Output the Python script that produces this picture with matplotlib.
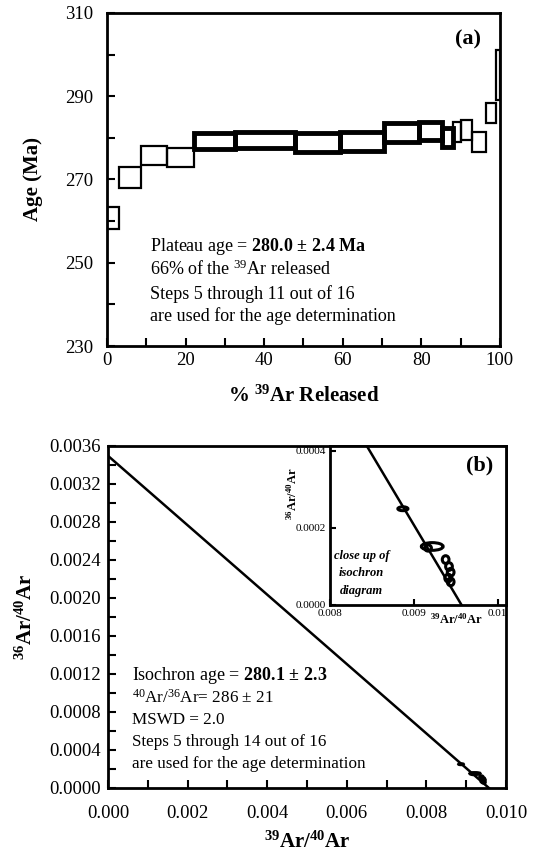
import matplotlib
matplotlib.use("Agg")
import matplotlib.pyplot as plt
from matplotlib.patches import Ellipse
import numpy as np

plt.rcParams['font.family'] = ['Liberation Serif', 'DejaVu Serif']
plt.rcParams['mathtext.fontset'] = 'custom'
plt.rcParams['mathtext.rm'] = 'Liberation Serif'
plt.rcParams['mathtext.it'] = 'Liberation Serif:italic'
plt.rcParams['mathtext.bf'] = 'Liberation Serif:bold'

# step heating spectrum: cumulative % 39Ar at step edges, age band per step (Ma)
release_edges = [0, 3.1, 8.7, 15.2, 22.1, 32.5, 47.8, 59.3, 70.4, 79.5, 85.2, 88.0, 90.2, 92.8, 96.5, 99.0, 100]
age_lo = [258.2, 267.9, 273.5, 273.1, 277.4, 277.6, 276.6, 276.8, 279.0, 279.5, 277.8, 279.1, 279.5, 276.7, 283.6, 289.0]
age_hi = [263.4, 273.0, 278.0, 277.6, 281.2, 281.5, 281.2, 281.4, 283.6, 283.9, 282.4, 283.9, 284.3, 281.5, 288.4, 301.0]
plateau_steps = [5, 6, 7, 8, 9, 10, 11]

# inverse isochron: 39Ar/40Ar, 36Ar/40Ar and half-widths of the error ellipses
iso_x = [0.00887, 0.00922, 0.00917, 0.00938, 0.00942, 0.00944, 0.00941, 0.00944]
iso_y = [0.000250, 0.000152, 0.000148, 0.000118, 0.000100, 0.000085, 0.000070, 0.000060]
iso_sx = [0.00006, 0.00013, 0.00004, 0.00004, 0.00004, 0.00004, 0.00004, 0.00004]
iso_sy = [0.000005, 0.000010, 0.000008, 0.000010, 0.000010, 0.000010, 0.000010, 0.000010]
trapped_ratio = 286.0
x_intercept = 0.00957

fig = plt.figure(figsize=(5.53, 8.59), dpi=100)

# ---------------- (a) age spectrum ----------------
ax1 = fig.add_axes([0.1935, 0.5972, 0.7105, 0.3877])
left = np.array(release_edges[:-1])
width = np.diff(release_edges)
lo = np.array(age_lo)
hi = np.array(age_hi)
lw = [3.5 if i + 1 in plateau_steps else 1.6 for i in range(len(lo))]
ax1.bar(left, hi - lo, width=width, bottom=lo, align='edge', fill=False,
        edgecolor='black', linewidth=lw)
ax1.set_xlim(0, 100)
ax1.set_ylim(230, 310)
ax1.set_xticks(np.arange(0, 101, 20))
ax1.set_xticks(np.arange(0, 101, 10), minor=True)
ax1.set_yticks(np.arange(230, 311, 20))
ax1.set_yticks(np.arange(230, 311, 10), minor=True)
ax1.tick_params(which='both', direction='in', width=1.5, length=6, labelsize=13.5)
ax1.tick_params(axis='x', pad=4)
ax1.tick_params(axis='y', pad=10)
for s in ax1.spines.values():
    s.set_linewidth(2)
ax1.set_xlabel(r'% $^{\mathbf{39}}$Ar Released', fontsize=15, fontweight='bold', labelpad=12)
ax1.set_ylabel('Age (Ma)', fontsize=15, fontweight='bold', labelpad=16)
ax1.text(0.92, 0.92, '(a)', transform=ax1.transAxes, fontsize=16, fontweight='bold',
         ha='center', va='center')

tx = 0.11
ax1.text(tx, 0.30, r'Plateau age = $\mathbf{280.0\,\pm\,2.4\ Ma}$', transform=ax1.transAxes,
         fontsize=13, va='center')
ax1.text(tx, 0.23, r'66% of the $^{39}$Ar released', transform=ax1.transAxes,
         fontsize=13, va='center')
ax1.text(tx, 0.155, 'Steps 5 through 11 out of 16', transform=ax1.transAxes,
         fontsize=13, va='center')
ax1.text(tx, 0.09, 'are used for the age determination', transform=ax1.transAxes,
         fontsize=13, va='center')

# ---------------- (b) inverse isochron ----------------
y_intercept = 1.0 / trapped_ratio
ax2 = fig.add_axes([0.1953, 0.0827, 0.7197, 0.3981])
ax2.plot([0, x_intercept], [y_intercept, 0], color='black', lw=1.8)
for x, y, sx, sy in zip(iso_x, iso_y, iso_sx, iso_sy):
    ax2.add_patch(Ellipse((x, y), 2 * sx, 2 * sy, fill=False, edgecolor='black', lw=2.2))
ax2.set_xlim(0, 0.010)
ax2.set_ylim(0, 0.0036)
ax2.set_xticks(np.arange(0, 0.0101, 0.002))
ax2.set_xticks(np.arange(0, 0.0101, 0.001), minor=True)
ax2.set_yticks(np.arange(0, 0.00361, 0.0004))
ax2.set_yticks(np.arange(0, 0.00361, 0.0002), minor=True)
ax2.xaxis.set_major_formatter(matplotlib.ticker.FormatStrFormatter('%.3f'))
ax2.yaxis.set_major_formatter(matplotlib.ticker.FormatStrFormatter('%.4f'))
ax2.tick_params(which='both', direction='in', width=1.5, length=6, labelsize=13.5)
ax2.tick_params(axis='x', pad=12)
ax2.tick_params(axis='y', pad=5)
for s in ax2.spines.values():
    s.set_linewidth(2)
ax2.set_xlabel(r'$^{\mathbf{39}}$Ar/$^{\mathbf{40}}$Ar', fontsize=15, fontweight='bold', labelpad=7)
ax2.set_ylabel(r'$^{\mathbf{36}}$Ar/$^{\mathbf{40}}$Ar', fontsize=15, fontweight='bold', labelpad=9)

tx = 0.06
ax2.text(tx, 0.33, r'Isochron age = $\mathbf{280.1\,\pm\,2.3}$', transform=ax2.transAxes,
         fontsize=13, va='center')
ax2.text(tx, 0.265, r'$^{40}$Ar/$^{36}$Ar= 286 ± 21', transform=ax2.transAxes,
         fontsize=12.3, va='center')
ax2.text(tx, 0.20, 'MSWD = 2.0', transform=ax2.transAxes, fontsize=12.3, va='center')
ax2.text(tx, 0.135, 'Steps 5 through 14 out of 16', transform=ax2.transAxes,
         fontsize=12.3, va='center')
ax2.text(tx, 0.07, 'are used for the age determination', transform=ax2.transAxes,
         fontsize=12.3, va='center')

# close-up inset
ax3 = fig.add_axes([0.5967, 0.2957, 0.915 - 0.5967, 0.4808 - 0.2957])
ax3.set_facecolor('white')
ax3.plot([0, x_intercept], [y_intercept, 0], color='black', lw=1.8)
for x, y, sx, sy in zip(iso_x, iso_y, iso_sx, iso_sy):
    ax3.add_patch(Ellipse((x, y), 2 * sx, 2 * sy, fill=False, edgecolor='black', lw=2.2))
ax3.set_xlim(0.008, 0.0101)
ax3.set_ylim(0, 0.000413)
ax3.set_xticks([0.008, 0.009, 0.010])
ax3.set_xticklabels(['0.008', '0.009', '0.01'])
ax3.set_yticks([0, 0.0002, 0.0004])
ax3.set_yticklabels(['0.0000', '0.0002', '0.0004'])
ax3.tick_params(direction='in', width=1.5, length=4, labelsize=8, pad=3)
for s in ax3.spines.values():
    s.set_linewidth(2)
ax3.set_xlabel(r'$^{\mathbf{39}}$Ar/$^{\mathbf{40}}$Ar', fontsize=9, fontweight='bold')
ax3.xaxis.set_label_coords(0.72, -0.045)
ax3.xaxis.label.set_va('top')
ax3.set_ylabel(r'$^{\mathbf{36}}$Ar/$^{\mathbf{40}}$Ar', fontsize=9, fontweight='bold')
ax3.yaxis.set_label_coords(-0.17, 0.7)
ax3.text(0.18, 0.2, 'close up of\nisochron\ndiagram', transform=ax3.transAxes,
         fontsize=9, fontweight='bold', fontstyle='italic', ha='center', va='center',
         linespacing=1.6)
ax3.text(0.85, 0.88, '(b)', transform=ax3.transAxes, fontsize=16, fontweight='bold',
         ha='center', va='center')

fig.savefig('out.png', dpi=100)
